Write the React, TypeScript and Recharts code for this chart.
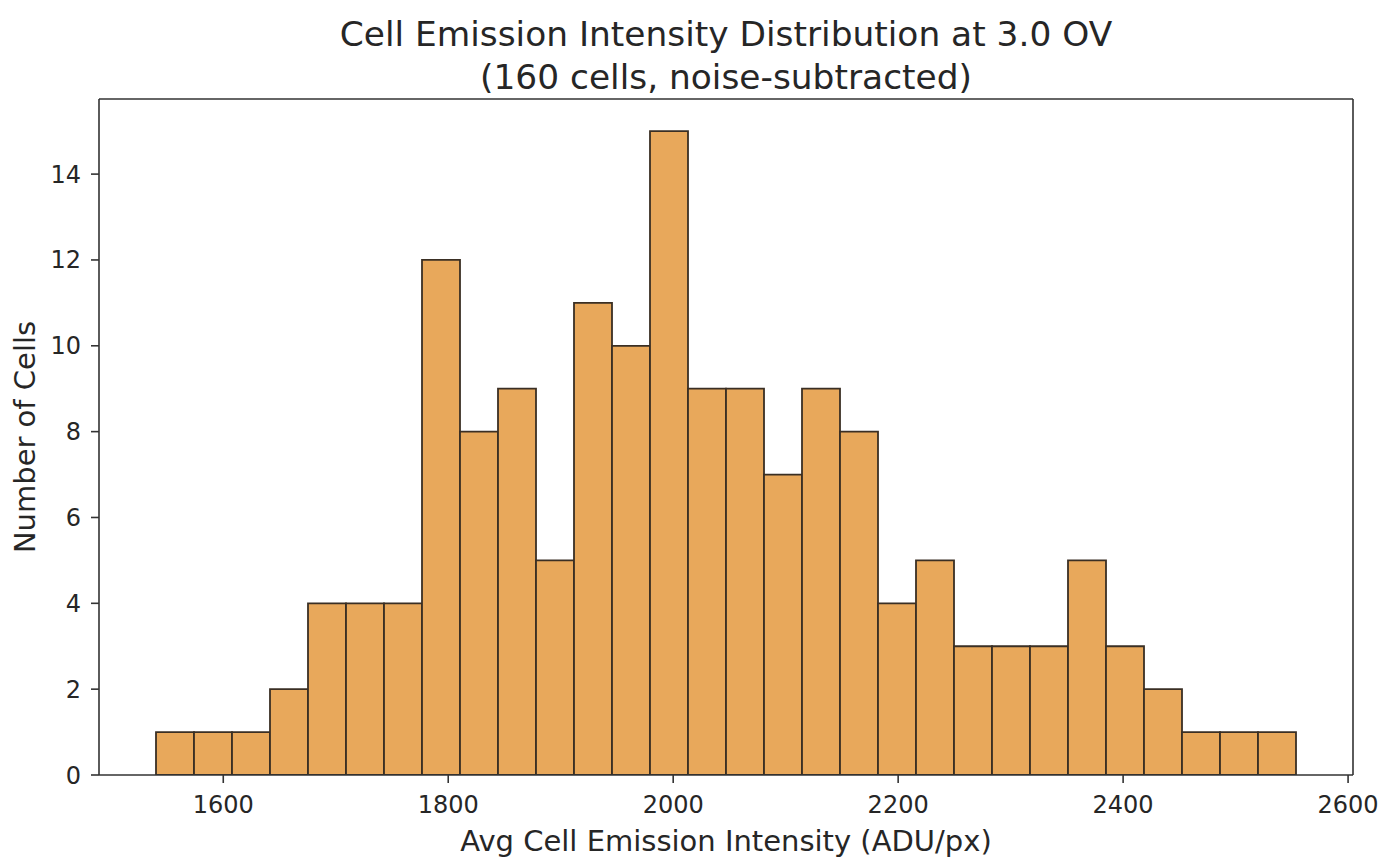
import React from 'react';
import {
  BarChart, Bar, XAxis, YAxis, ReferenceLine,
} from 'recharts';

// histogram of per-cell emission intensity, 30 equal-width bins
const binMin = 1540.2;
const binMax = 2553.7;
const counts = [1, 1, 1, 2, 4, 4, 4, 12, 8, 9, 5, 11, 10, 15, 9, 9, 7, 9, 8, 4, 5, 3, 3, 3, 5, 3, 2, 1, 1, 1];
const xTicks = [1600, 1800, 2000, 2200, 2400, 2600];
const yTicks = [0, 2, 4, 6, 8, 10, 12, 14];

const binWidth = (binMax - binMin) / counts.length;
const data = counts.map((count, i) => ({
  mid: binMin + binWidth * (i + 0.5),
  count,
}));

// matplotlib-style 5% padding around the data
const pad = (binMax - binMin) * 0.05;
const xDomain: [number, number] = [binMin - pad, binMax + pad];
const yMax = Math.max(...counts) * 1.05;

const FONT = '"DejaVu Sans", Verdana, sans-serif';
const INK = '#262626';
const SPINE = '#333333';

export default function App() {
  return (
    <div style={{ position: 'absolute', left: 0, top: 0, width: 1392, height: 864, background: '#fff', fontFamily: FONT }}>
      <div
        style={{
          position: 'absolute', left: 99, top: 13, width: 1254,
          textAlign: 'center', fontSize: 34.4, lineHeight: '43px', color: INK,
        }}
      >
        Cell Emission Intensity Distribution at 3.0 OV
        <br />
        (160 cells, noise-subtracted)
      </div>
      <BarChart
        width={1392}
        height={864}
        data={data}
        margin={{ top: 99, right: 39, left: 0, bottom: 0 }}
        barCategoryGap={0}
        barGap={0}
      >
        <XAxis
          dataKey="mid"
          type="number"
          domain={xDomain}
          ticks={xTicks}
          allowDataOverflow
          height={89}
          tickSize={8}
          tickMargin={13}
          axisLine={{ stroke: SPINE, strokeWidth: 1.6 }}
          tickLine={{ stroke: SPINE, strokeWidth: 1.6 }}
          tick={{ fontSize: 24, fill: INK, fontFamily: FONT }}
          label={{
            value: 'Avg Cell Emission Intensity (ADU/px)',
            position: 'insideBottom',
            offset: 13,
            style: { fontSize: 29, fill: INK, fontFamily: FONT },
          }}
        />
        <YAxis
          type="number"
          domain={[0, yMax]}
          ticks={yTicks}
          allowDataOverflow
          width={99}
          tickSize={8}
          tickMargin={10}
          axisLine={{ stroke: SPINE, strokeWidth: 1.6 }}
          tickLine={{ stroke: SPINE, strokeWidth: 1.6 }}
          tick={{ fontSize: 24, fill: INK, fontFamily: FONT }}
          label={{
            value: 'Number of Cells',
            angle: -90,
            position: 'insideLeft',
            offset: 25,
            style: { textAnchor: 'middle', fontSize: 29, fill: INK, fontFamily: FONT },
          }}
        />
        <Bar
          dataKey="count"
          fill="#e8a85b"
          stroke="#3a2f24"
          strokeWidth={1.8}
          isAnimationActive={false}
        />
        {/* top and right spines */}
        <ReferenceLine y={yMax} stroke={SPINE} strokeWidth={1.6} />
        <ReferenceLine x={xDomain[1]} stroke={SPINE} strokeWidth={1.6} />
      </BarChart>
    </div>
  );
}
